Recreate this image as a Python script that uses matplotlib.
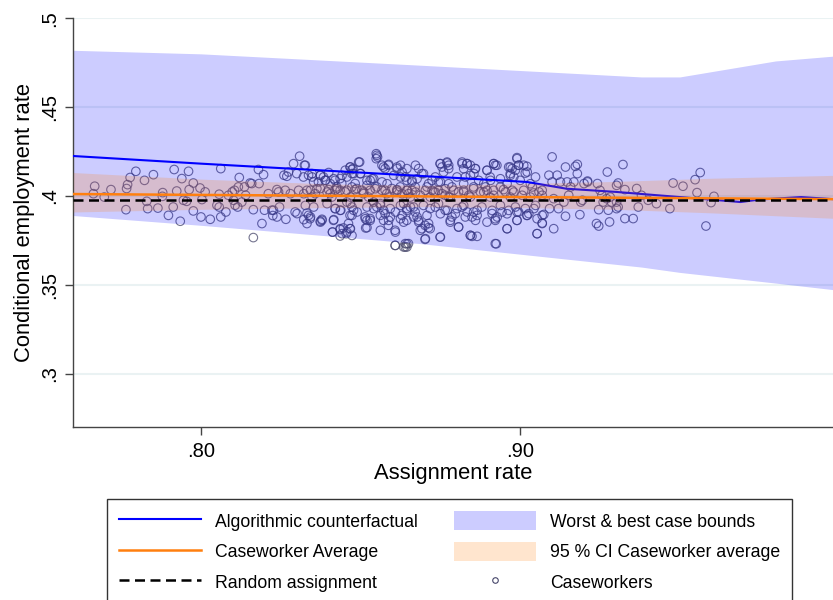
import matplotlib
matplotlib.use("Agg")
import matplotlib.pyplot as plt
from matplotlib.lines import Line2D
from matplotlib.patches import Patch

plt.rcParams['font.family'] = ['Liberation Sans', 'DejaVu Sans']

# ---------------- data ----------------
# Caseworkers (assignment rate, conditional employment rate)
caseworker_rate = [
    .7667, .7663, .7697, .7718, .7765, .7767, .7770, .7778, .7796, .7823, .7830, .7833,
    .7851, .7865, .7880, .7879, .7898, .7916, .7924, .7913, .7935, .7940, .7961, .7963,
    .7976, .7945, .7955, .7976, .7997, .8003, .8013, .8000, .8029, .8050, .8057, .8057,
    .8062, .8062, .8078, .8086, .8098, .8105, .8102, .8107, .8117, .8120, .8115, .8128,
    .8136, .8140, .8154, .8159, .8164, .8164, .8180, .8182, .8196, .8191, .8199, .8211,
    .8222, .8225,
    .8309, .8290, .8324, .8260, .8269, .8274, .8300, .8337, .8348, .8238, .8243, .8264,
    .8280, .8306, .8322, .8227, .8246, .8238, .8266, .8295, .8301, .8332, .8322, .8343,
    .8332, .8379, .8374, .8374, .8384, .8390, .8400, .8368, .8400, .8405, .8420, .8415,
    .8438, .8412, .8436, .8446, .8436, .8455, .8467, .8462, .8420, .8436, .8441, .8425,
    .8467, .8473, .8452, .8478, .8497, .8500, .8483, .8457, .8473, .8478, .8467, .8504,
    .8520, .8530, .8541, .8514, .8520, .8530, .8516, .8551, .8549, .8567, .8577, .8587,
    .8541, .8551, .8562, .8572, .8572, .8587, .8608, .8593, .8608, .8635, .8640, .8614,
    .8630, .8640, .8624, .8614, .8635, .8645, .8630, .8645,
    .8343, .8358, .8374, .8420, .8436, .8452, .8473, .8488, .8509, .8530, .8551, .8567,
    .8582, .8598, .8614, .8630, .8645,
    .8645, .8650, .8682, .8692, .8661, .8671, .8650, .8656, .8671, .8666, .8682, .8692,
    .8702, .8713, .8718, .8702, .8749, .8755, .8771, .8776, .8760, .8734, .8744, .8749,
    .8724, .8755, .8776, .8734, .8765, .8781, .8807, .8797, .8818, .8834, .8823, .8844,
    .8860, .8855, .8828, .8844, .8865, .8818, .8834, .8849, .8860, .8865, .8896, .8917,
    .8922, .8907, .8891, .8912, .8922, .8928, .8943, .8959, .8922, .8964, .8975, .8985,
    .8969, .8995, .9011, .9022, .8980, .8990, .8985, .8995, .8990, .9022, .9027, .9053,
    .9069, .9043,
    .8661, .8687, .8708, .8729, .8744, .8765, .8786, .8807, .8823, .8839, .8854, .8875,
    .8896, .8917, .8938, .8954, .8975, .9006, .9038, .9059,
    .9100, .9090, .9116, .9100, .9126, .9142, .9173, .9179, .9147, .9168, .9158, .9152,
    .9069, .9069, .9105, .9137, .9092, .9120, .9069, .9074, .9069, .9142, .9187, .9105,
    .9179, .9200, .9211, .9195, .9190, .9211, .9242, .9239, .9246, .9246, .9276, .9302,
    .9307, .9273, .9322, .9250, .9256, .9271, .9282, .9260, .9286, .9302, .9302, .9307,
    .9328, .9365, .9280, .9328, .9354, .9370, .9380, .9401, .9427, .9469, .9479, .9510,
    .9548, .9564, .9554, .9607, .9598, .9582,
    # dense cluster, left half
    .8327, .8494, .8549, .8553, .8572, .8588, .8614, .8625, .8645, .8672, .8468, .8476,
    .8321, .8348, .8374, .8389, .8416, .8442, .8457, .8473, .8499, .8520, .8536, .8567,
    .8583, .8604, .8625, .8645, .8661, .8677, .8353, .8405,
    .8332, .8363, .8395, .8426, .8457, .8483, .8510, .8546, .8577, .8614, .8645, .8672,
    .8348, .8410, .8468, .8525, .8588, .8656,
    .8327, .8353, .8395, .8421, .8436, .8468, .8489, .8520, .8541, .8562, .8577, .8593,
    .8609, .8625, .8645, .8666, .8337, .8342, .8379, .8374, .8416, .8473, .8515, .8530,
    .8562, .8588, .8625, .8635, .8677, .8682,
    .8412, .8436, .8442, .8457, .8468, .8473, .8520, .8562, .8609, .8645, .8640, .8609,
    .8687,
    # dense cluster, right half
    .8750, .8771, .8818, .8833, .8859, .8896, .8917, .8927, .8969, .8990, .8995, .9021,
    .9016, .8776,
    .8697, .8724, .8750, .8776, .8802, .8844, .8870, .8906, .8938, .8969, .9000, .9032,
    .9048, .8713, .8823, .8886, .8959,
    .8703, .8734, .8765, .8792, .8823, .8854, .8886, .8917, .8948, .8980, .9011, .9042,
    .8718, .8781, .8844, .8906, .8969, .9032,
    .8697, .8718, .8744, .8771, .8802, .8823, .8854, .8880, .8912, .8938, .8964, .8990,
    .9016, .9048, .8708, .8750, .8786, .8828, .8865, .8896, .8922, .8959, .8990, .9021,
    .9053,
    .8703, .8713, .8750, .8781, .8807, .8844, .8849, .8925, .8959, .9053,
]
caseworker_emp = [
    .4055, .4013, .3994, .4036, .3923, .4042, .4064, .4104, .4139, .4088, .3970, .3929,
    .4120, .3932, .4019, .3998, .3891, .4149, .4028, .3938, .3858, .4098, .4139, .4036,
    .4073, .3976, .3970, .3916, .4045, .3980, .4023, .3882, .3869, .3948, .3938, .4010,
    .4154, .3882, .3910, .4004, .4023, .4032, .3976, .3948, .4051, .4104, .3938, .3966,
    .4051, .4004, .4073, .4070, .3923, .3766, .4149, .4070, .4120, .3845, .3920, .4013,
    .3920, .3890,
    .4224, .4182, .4173, .4117, .4111, .4135, .4126, .4117, .4126, .4036, .4023, .4032,
    .4013, .4032, .4013, .3920, .3938, .3882, .3869, .3910, .3901, .3904, .3867, .3882,
    .3845, .3869, .3858, .4117, .4107, .4088, .4132, .4079, .4036, .4013, .3929, .3863,
    .3920, .3797, .3811, .3820, .3775, .3788, .3816, .3845, .4088, .4098, .4070, .4051,
    .4163, .4149, .4145, .4126, .4191, .4126, .4070, .3966, .3938, .3920, .3891, .4032,
    .4060, .4088, .4098, .3882, .3863, .3873, .3820, .4229, .4210, .4173, .4154, .4173,
    .3966, .3938, .3948, .3920, .3863, .3835, .3807, .3882, .3722, .3713, .3732, .4154,
    .4135, .4107, .4051, .4032, .3957, .3929, .3891, .3863,
    .4032, .4013, .4042, .4032, .4032, .4023, .4051, .4042, .4013, .4032, .4051, .4032,
    .4013, .4042, .4023, .4013, .4032,
    .3713, .3732, .4154, .4126, .4088, .4051, .4013, .3938, .3910, .3882, .3863, .3816,
    .3835, .3845, .3816, .3756, .4182, .4163, .4191, .4173, .4135, .4107, .4079, .3769,
    .4032, .4013, .3994, .3938, .3920, .3863, .3826, .3901, .4191, .4182, .4154, .4173,
    .4154, .4126, .4107, .3779, .3773, .3938, .3910, .3882, .3863, .3920, .4145, .4182,
    .4173, .4088, .4051, .3901, .3863, .3882, .3910, .3816, .3732, .4163, .4154, .4145,
    .4126, .4173, .4173, .4135, .4107, .4216, .3938, .3910, .3863, .3891, .3901, .3788,
    .3845, .3929,
    .4032, .4004, .4051, .4023, .4032, .4004, .4051, .4023, .4032, .4004, .4051, .4023,
    .4032, .4004, .4051, .4023, .4032, .4004, .4051, .4023,
    .4220, .4117, .4117, .4079, .4079, .4163, .4167, .4178, .4079, .4079, .4051, .4004,
    .4032, .4004, .3985, .3966, .3929, .3929, .3891, .3896, .3848, .3886, .3895, .3816,
    .4126, .4070, .4084, .3976, .3966, .4079, .4070, .3845, .3831, .3923, .3920, .3929,
    .3938, .4135, .4177, .4032, .4004, .3985, .3994, .3966, .3966, .3966, .4060, .4073,
    .4036, .4042, .3854, .3873, .3873, .3938, .4004, .3976, .3957, .3929, .4073, .4055,
    .4092, .4132, .4019, .3998, .3963, .3831,
    # dense cluster, left half
    .4173, .4191, .4238, .4219, .4163, .4178, .4163, .4173, .4154, .4173, .4163, .4154,
    .4107, .4107, .4116, .4088, .4097, .4116, .4107, .4126, .4126, .4088, .4097, .4079,
    .4069, .4116, .4107, .4088, .4079, .4097, .4079, .4069,
    .4032, .4041, .4022, .4041, .4032, .4036, .4022, .4041, .4032, .4036, .4032, .4022,
    .3994, .3994, .3994, .3994, .3994, .3994,
    .3947, .3938, .3957, .3929, .3919, .3957, .3910, .3938, .3929, .3957, .3900, .3929,
    .3910, .3947, .3919, .3938, .3891, .3872, .3863, .3853, .3867, .3891, .3872, .3863,
    .3891, .3863, .3872, .3853, .3882, .3853,
    .3797, .3816, .3788, .3797, .3816, .3778, .3822, .3807, .3797, .3731, .3713, .3722,
    .3807,
    # dense cluster, right half
    .4182, .4186, .4182, .4182, .4154, .4144, .4182, .4173, .4163, .4210, .4173, .4167,
    .4129, .4154,
    .4126, .4088, .4079, .4069, .4107, .4116, .4088, .4107, .4097, .4116, .4088, .4069,
    .4107, .4069, .4069, .4069, .4069,
    .4032, .4022, .4041, .4032, .4022, .4041, .4022, .4032, .4036, .4022, .4032, .4017,
    .3994, .3994, .3994, .3994, .3994, .3994,
    .3947, .3929, .3957, .3919, .3929, .3947, .3910, .3938, .3919, .3947, .3919, .3910,
    .3929, .3947, .3891, .3900, .3882, .3882, .3891, .3853, .3872, .3900, .3863, .3891,
    .3872,
    .3760, .3822, .3769, .3853, .3825, .3778, .3773, .3731, .3816, .3788,
]

# Algorithmic counterfactual
algo_x = [0.760, 0.800, 0.8688, 0.9021, 0.9145, 0.930, 0.950, 0.969, 0.975, 0.988, 1.000]
algo_y = [0.4225, 0.4182, 0.4113, 0.4079, 0.4041, 0.4023, 0.3994, 0.3966, 0.3980, 0.3994, 0.3980]

# Worst & best case bounds
bounds_x = [0.760, 0.800, 0.8688, 0.938, 0.950, 0.980, 1.000]
bounds_hi = [0.482, 0.4800, 0.4736, 0.467, 0.467, 0.476, 0.479]
bounds_lo = [0.389, 0.3835, 0.3732, 0.3600, 0.3570, 0.3510, 0.3469]

# Caseworker average and 95% CI
avg_x = [0.760, 1.000]
avg_y = [0.4011, 0.3982]
ci_x = [0.760, 0.800, 0.840, 0.870, 0.900, 0.930, 0.960, 1.000]
ci_hi = [0.4132, 0.4095, 0.4068, 0.4060, 0.4070, 0.4082, 0.4100, 0.4117]
ci_lo = [0.3910, 0.3925, 0.3935, 0.3940, 0.3935, 0.3925, 0.3905, 0.3873]

# Random assignment
rand_x = [0.760, 1.000]
rand_y = [0.398, 0.398]

y_ticks = [0.30, 0.35, 0.40, 0.45, 0.50]
y_ticklabels = ['.3', '.35', '.4', '.45', '.5']
x_ticks = [0.80, 0.90]
x_ticklabels = ['.80', '.90']

# ---------------- plot ----------------
fig = plt.figure(figsize=(8.33, 6.0), dpi=100)
ax = fig.add_axes([73.3 / 833, 173 / 600, (833 - 73.3) / 833, (427 - 18.3) / 600])

ax.set_xlim(0.760, 0.998)
ax.set_ylim(0.27, 0.50)

for yt in y_ticks:
    ax.axhline(yt, color='#EAF2F3', lw=1.5, zorder=0)

ax.scatter(caseworker_rate, caseworker_emp, s=38, facecolors='none',
           edgecolors='#46466a', linewidths=0.8, alpha=0.75, zorder=1)
ax.fill_between(bounds_x, bounds_lo, bounds_hi, color='#0000FF', alpha=0.2, lw=0, zorder=2)
ax.plot(algo_x, algo_y, color='#0000FF', lw=1.5, zorder=3)
ax.fill_between(ci_x, ci_lo, ci_hi, color='#FF7F0E', alpha=0.2, lw=0, zorder=4)
ax.plot(avg_x, avg_y, color='#FF7F0E', lw=1.8, zorder=5)
ax.plot(rand_x, rand_y, color='black', lw=1.8, ls=(0, (4, 2.2)), zorder=6)

ax.set_yticks(y_ticks)
ax.set_yticklabels(y_ticklabels, rotation=90, va='center')
ax.set_xticks(x_ticks)
ax.set_xticklabels(x_ticklabels)
ax.tick_params(axis='both', labelsize=14.5, length=6, width=1, color='#444444', pad=5)
ax.tick_params(axis='y', pad=4)

for s in ['top', 'right']:
    ax.spines[s].set_visible(False)
for s in ['left', 'bottom']:
    ax.spines[s].set_color('#444444')
    ax.spines[s].set_linewidth(1)

ax.set_xlabel('Assignment rate', fontsize=15.8, labelpad=1)
ax.set_ylabel('Conditional employment rate', fontsize=15.8, labelpad=4)

handles = [
    Line2D([], [], color='#0000FF', lw=1.5),
    Line2D([], [], color='#FF7F0E', lw=1.8),
    Line2D([], [], color='black', lw=1.8, ls=(0, (4, 2.2))),
    Patch(facecolor='#0000FF', alpha=0.2, lw=0),
    Patch(facecolor='#FF7F0E', alpha=0.2, lw=0),
    Line2D([], [], ls='none', marker='o', markersize=4, markerfacecolor='none',
           markeredgecolor='#46466a', markeredgewidth=0.8),
]
labels = ['Algorithmic counterfactual', 'Caseworker Average', 'Random assignment',
          'Worst & best case bounds', '95 % CI Caseworker average', 'Caseworkers']
leg = fig.legend(handles, labels, ncol=2, loc='upper left',
                 bbox_to_anchor=(107 / 833, 1 - 499 / 600), borderaxespad=0,
                 fontsize=12.7, handlelength=4.65, handleheight=1.25,
                 handletextpad=0.8, columnspacing=2.0, labelspacing=0.65,
                 borderpad=0.7, frameon=True, fancybox=False)
leg.get_frame().set_edgecolor('black')
leg.get_frame().set_linewidth(1)

fig.savefig('out.png', dpi=100)
